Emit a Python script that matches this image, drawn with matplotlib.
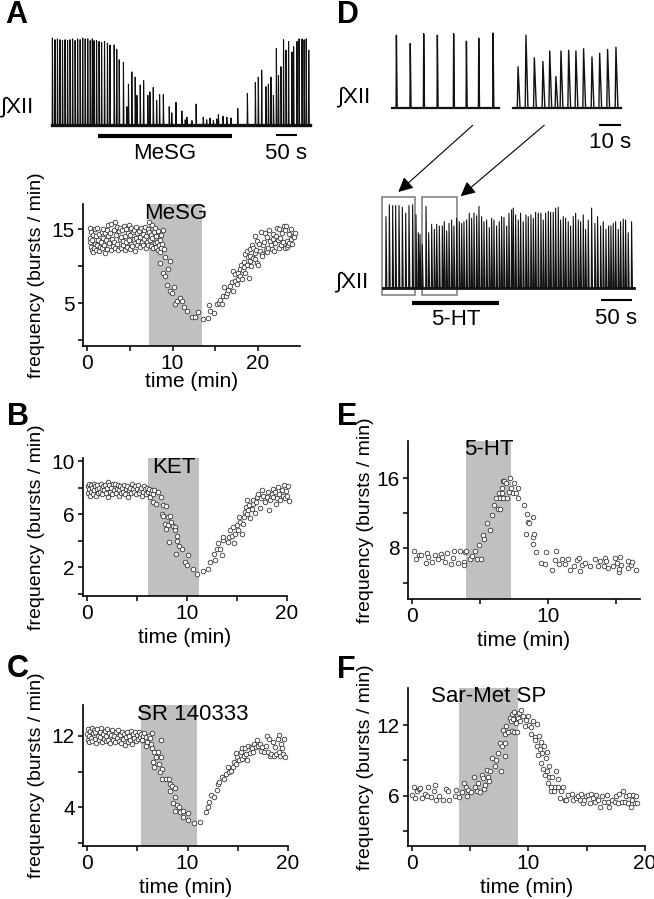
import numpy as np
import matplotlib
matplotlib.use("Agg")
import matplotlib.pyplot as plt
from matplotlib.patches import Rectangle, ConnectionPatch

plt.rcParams['font.family'] = ['Liberation Sans', 'DejaVu Sans']

W, H = 654, 899

# ---- raw traces (burst time in s, relative amplitude) ----
A_BURST_T = [1, 7, 13, 19, 25, 31, 37, 43, 49, 55,
             61, 67, 73, 79, 85, 91, 96, 100, 106, 112,
             118, 125, 132, 138, 148, 154, 160, 170, 178, 182,
             190, 198, 202, 210, 218, 228, 233, 241, 249, 256,
             265, 279, 285, 295, 309, 317, 321, 333, 343, 360,
             368, 376, 384, 392, 396, 407, 416, 426, 442, 465,
             484, 491, 499, 509, 515, 521, 527, 534, 539, 545,
             551, 557, 563, 571, 575, 583, 588, 595, 600, 605,
             611]
A_BURST_AMP = [1.0, 0.98, 0.99, 0.98, 0.97, 0.98, 0.97, 0.98, 0.99, 0.97,
               0.99, 0.98, 1.0, 0.99, 0.99, 0.97, 0.99, 0.97, 0.97, 0.96,
               0.95, 0.96, 0.94, 0.92, 0.92, 0.87, 0.75, 0.72, 0.21, 0.47,
               0.61, 0.55, 0.34, 0.46, 0.51, 0.34, 0.38, 0.43, 0.28, 0.35,
               0.35, 0.21, 0.14, 0.26, 0.16, 0.06, 0.09, 0.05, 0.24, 0.09,
               0.06, 0.08, 0.05, 0.07, 0.12, 0.10, 0.09, 0.08, 0.19, 0.36,
               0.49, 0.55, 0.63, 0.44, 0.47, 0.55, 0.34, 0.88, 0.57, 0.67,
               0.98, 0.86, 0.96, 0.84, 0.90, 0.96, 0.99, 0.99, 0.98, 0.99,
               0.86]
A_MESG_ON = (109, 428)      # s, drug bar in trace A
A_SCALE = (533, 583)        # 50 s scale bar

DL_T = [2.0, 8.3, 14.4, 20.6, 28.0, 33.8, 39.4, 45.9]
DL_AMP = [0.97, 0.86, 0.99, 0.97, 0.99, 0.89, 0.93, 1.0]
DR_T = [2.3, 5.9, 9.7, 13.6, 16.7, 19.5, 21.8, 25.3, 28.6, 32.1, 35.9, 39.4, 43.0, 46.8]
DR_AMP = [0.55, 0.97, 0.67, 0.62, 0.76, 0.42, 0.76, 0.77, 0.76, 0.79, 0.68, 0.73, 0.78, 0.81]

DB_T = [4.8, 10.2, 15.6, 20.4, 25.8, 31.2, 36.6, 41.9, 47.8, 53.2,
        57.0, 59.7, 63.4, 69.4, 73.7, 78.5, 82.8, 86.6, 90.9, 95.7,
        98.9, 102.7, 106.5, 110.8, 114.5, 118.8, 123.1, 126.9, 130.6, 134.9,
        139.2, 143.0, 146.8, 151.1, 154.8, 159.1, 162.9, 167.2, 171.5, 175.3,
        179.0, 183.3, 187.6, 191.4, 195.2, 199.5, 203.2, 207.5, 210.2, 214.0,
        218.3, 222.0, 226.3, 230.6, 234.4, 238.7, 242.5, 246.2, 250.5, 254.8,
        258.6, 262.4, 266.7, 270.4, 274.7, 278.5, 282.8, 286.6, 290.9, 294.6,
        298.9, 302.7, 307.0, 310.8, 315.1, 318.8, 323.1, 326.9, 331.2, 336.6,
        341.9, 346.2, 351.1, 355.4, 359.7, 364.0, 367.7, 371.5, 375.3, 379.6,
        383.3, 387.6, 391.4, 395.7, 401.1]
DB_AMP = [0.84, 0.98, 0.97, 0.97, 0.97, 0.95, 0.88, 0.97, 0.98, 0.86,
          0.65, 0.63, 0.51, 0.96, 0.65, 0.75, 0.69, 0.75, 0.73, 0.73,
          0.78, 0.67, 0.76, 0.80, 0.73, 0.82, 0.78, 0.76, 0.78, 0.80,
          0.88, 0.82, 0.88, 0.85, 0.96, 0.84, 0.78, 0.80, 0.71, 0.82,
          0.80, 0.73, 0.78, 0.84, 0.83, 0.73, 0.88, 0.92, 0.94, 0.86,
          0.80, 0.88, 0.78, 0.86, 0.84, 0.86, 0.82, 0.89, 0.88, 0.88,
          0.80, 0.88, 0.90, 0.89, 0.89, 0.94, 0.95, 0.80, 0.84, 0.82,
          0.78, 0.73, 0.84, 0.88, 0.80, 0.78, 0.86, 0.69, 0.80, 0.94,
          0.76, 0.84, 0.73, 0.78, 0.69, 0.73, 0.73, 0.76, 0.78, 0.69,
          0.78, 0.81, 0.80, 0.65, 0.78]
D_BOXES = [(-1.6, 53.2), (62.9, 56.5)]   # start, width in s
D_5HT_ON = (46.8, 187.0)
D_SCALE = (351.6, 401.6)

# ---- burst frequency (time min, bursts/min) ----
A_PTS = [(0.3, 13.8), (0.35, 15.1), (0.4, 13.2), (0.45, 12.6), (0.5, 14.6), (0.55, 12.1), (0.6, 13.5),
         (0.7, 11.9), (0.75, 14.2), (0.8, 12.5), (0.9, 15.0), (0.95, 13.0), (1.0, 12.2), (1.1, 14.0),
         (1.15, 12.8), (1.2, 15.1), (1.3, 13.5), (1.35, 12.0), (1.45, 14.3), (1.5, 12.6), (1.6, 13.2),
         (1.7, 14.6), (1.75, 12.4), (1.85, 13.8), (1.9, 15.0), (2.0, 12.9), (2.05, 14.4), (2.15, 11.8),
         (2.2, 13.5), (2.3, 14.9), (2.35, 12.3), (2.45, 14.0), (2.5, 15.6), (2.6, 13.1), (2.7, 14.5),
         (2.75, 12.1), (2.85, 15.7), (2.9, 13.7), (3.0, 12.7), (3.1, 14.8), (3.15, 13.3), (3.25, 15.9),
         (3.3, 12.5), (3.4, 14.2), (3.45, 15.3), (3.55, 13.0), (3.6, 12.2), (3.7, 14.7), (3.8, 13.6),
         (3.85, 15.2), (3.95, 12.4), (4.0, 13.9), (4.1, 14.9), (4.15, 12.8), (4.25, 13.4), (4.3, 15.4),
         (4.4, 12.1), (4.45, 14.1), (4.55, 13.2), (4.6, 15.0), (4.7, 12.6), (4.75, 14.5), (4.85, 13.5),
         (4.9, 15.5), (5.0, 12.3), (5.05, 14.2), (5.15, 13.0), (5.2, 15.1), (5.3, 12.7), (5.35, 14.6),
         (5.45, 13.6), (5.5, 14.9), (5.6, 12.0), (5.7, 13.8), (5.75, 15.3), (5.85, 12.9), (5.9, 14.4),
         (6.0, 13.4), (6.1, 14.7), (6.15, 12.6), (6.25, 13.9), (6.3, 15.1), (6.4, 13.2), (6.5, 14.3),
         (6.55, 12.8), (6.65, 14.8), (6.7, 13.6), (6.8, 15.3), (6.85, 12.5), (6.95, 14.1), (7.0, 13.3),
         (7.1, 15.0), (7.15, 12.9), (7.25, 14.6), (7.3, 16.0), (7.35, 13.5), (7.45, 14.2), (7.5, 12.7),
         (7.6, 15.5), (7.65, 13.8), (7.75, 12.4), (7.8, 14.6), (7.9, 13.1), (7.95, 15.2), (8.05, 12.6),
         (8.1, 14.0), (8.2, 13.3), (8.25, 12.2), (8.35, 14.7), (8.4, 12.8), (8.5, 13.5), (8.55, 11.9),
         (8.65, 14.2), (8.7, 12.5), (8.8, 13.0), (8.85, 14.9), (8.95, 12.3),
         (8.5, 10.4), (8.9, 9.1), (9.1, 11.2), (9.1, 8.6), (9.3, 7.5), (9.5, 9.6), (9.7, 10.7),
         (9.7, 6.6), (9.9, 6.3), (10.2, 7.1), (10.3, 4.8), (10.5, 5.3), (10.9, 5.7), (11.1, 5.3),
         (11.3, 4.4), (11.65, 3.9), (12.25, 3.1), (12.6, 3.15), (13.0, 3.8),
         (13.6, 2.8), (14.2, 3.0), (14.3, 4.7), (14.4, 3.9), (14.85, 3.7), (15.2, 4.9), (15.4, 5.0),
         (15.55, 5.4), (15.75, 4.8), (15.9, 5.9), (16.0, 7.1), (16.2, 6.0), (16.4, 6.3), (16.5, 6.7),
         (16.7, 7.3), (16.9, 7.8), (17.1, 6.6), (17.1, 9.3), (17.3, 8.0), (17.3, 8.9), (17.5, 7.6),
         (17.6, 8.3), (17.7, 9.1), (17.9, 8.6), (17.9, 9.6), (18.0, 10.1), (18.1, 8.2), (18.2, 9.4),
         (18.3, 9.8), (18.4, 10.5), (18.5, 9.1), (18.5, 11.6), (18.7, 10.2), (18.7, 12.0), (18.8, 11.2),
         (18.9, 8.4), (19.0, 12.3), (19.1, 10.7), (19.1, 11.4), (19.2, 10.0), (19.3, 12.8), (19.45, 11.1),
         (19.45, 12.5), (19.6, 10.9), (19.65, 11.8), (19.65, 14.05), (19.75, 12.2), (19.85, 10.4),
         (19.85, 13.4), (20.0, 10.2), (20.1, 13.0), (20.2, 12.0), (20.3, 14.6), (20.4, 11.6), (20.5, 11.3),
         (20.6, 12.9), (20.7, 13.3), (20.8, 14.5), (20.9, 12.1), (21.0, 13.9), (21.1, 11.9), (21.2, 12.5),
         (21.3, 14.8), (21.4, 13.4), (21.5, 12.8), (21.6, 12.3), (21.7, 13.7), (21.8, 14.3), (21.9, 12.0),
         (22.0, 13.1), (22.1, 14.0), (22.2, 15.2), (22.3, 13.5), (22.4, 12.5), (22.5, 15.0), (22.6, 13.8),
         (22.7, 12.9), (22.8, 14.5), (22.9, 13.2), (23.0, 15.4), (23.1, 14.8), (23.2, 12.5), (23.3, 15.4),
         (23.35, 13.4), (23.4, 12.6), (23.5, 12.9), (23.6, 13.1), (23.65, 14.3), (23.8, 15.0), (23.9, 13.6),
         (24.0, 13.0), (24.1, 14.05), (24.2, 13.9), (24.3, 14.4)]

B_PTS = [(0.05, 8.1), (0.1, 7.6), (0.15, 8.3), (0.2, 7.9), (0.3, 7.4), (0.35, 8.2), (0.4, 7.7), (0.5, 8.0),
         (0.55, 7.5), (0.65, 8.3), (0.7, 7.8), (0.8, 8.1), (0.85, 7.4), (0.95, 7.9), (1.0, 8.2), (1.1, 7.6),
         (1.2, 8.0), (1.25, 7.7), (1.35, 8.3), (1.45, 7.9), (1.5, 7.5), (1.6, 8.1), (1.7, 7.8), (1.75, 8.2),
         (1.85, 7.6), (1.95, 8.0), (2.05, 7.3), (2.1, 8.4), (2.2, 8.2), (2.3, 7.7), (2.4, 8.0), (2.5, 7.5),
         (2.55, 8.3), (2.65, 7.8), (2.8, 8.3), (2.85, 7.6), (2.95, 7.9), (3.05, 8.2), (3.15, 7.4), (3.2, 7.8),
         (3.3, 8.1), (3.4, 7.6), (3.5, 8.0), (3.6, 7.7), (3.7, 8.2), (3.8, 7.5), (3.9, 7.9), (4.0, 8.1),
         (4.1, 7.3), (4.2, 7.8), (4.3, 8.0), (4.4, 7.6), (4.5, 8.3), (4.6, 7.9), (4.7, 7.7), (4.8, 8.1),
         (4.9, 7.5), (5.0, 7.9), (5.1, 8.2), (5.2, 7.6), (5.3, 7.8), (5.4, 8.0), (5.5, 7.4), (5.6, 7.7),
         (5.7, 8.1), (5.8, 7.9), (5.9, 7.5), (6.0, 8.0), (6.1, 7.7), (6.2, 7.9), (6.3, 7.3), (6.4, 7.6),
         (6.5, 7.8), (6.6, 7.5), (6.7, 7.8),
         (6.6, 6.9), (6.9, 6.8), (7.1, 7.7), (7.4, 7.3), (7.6, 6.7), (7.9, 6.6), (7.5, 6.05), (7.6, 5.9),
         (8.1, 5.8), (8.3, 5.9), (7.8, 5.3), (7.9, 4.9), (8.1, 5.2), (8.4, 5.4), (8.6, 5.1), (8.8, 5.05),
         (9.0, 4.4), (8.8, 4.8), (8.2, 3.9), (9.0, 4.0), (9.2, 3.6), (9.5, 3.4), (8.9, 3.0), (10.1, 2.9),
         (9.8, 2.4), (10.0, 2.2), (10.6, 1.9), (10.95, 1.5),
         (11.6, 1.7), (12.1, 1.9), (12.3, 2.4), (12.8, 2.55), (12.7, 3.0), (13.0, 3.4), (13.3, 3.4),
         (13.5, 2.9), (13.1, 3.8), (13.6, 4.05), (13.6, 4.3), (14.1, 3.9), (14.2, 4.3), (14.3, 4.8),
         (14.5, 4.35), (14.7, 3.8), (14.8, 4.5), (14.6, 5.05), (15.0, 5.2), (15.1, 4.8), (15.2, 5.8),
         (15.3, 5.4), (15.5, 4.5), (15.6, 5.25), (15.7, 5.8), (15.8, 6.2), (15.9, 6.55), (16.0, 7.1),
         (16.0, 6.0), (16.1, 6.3), (16.2, 6.7), (16.3, 5.7), (16.5, 6.4), (16.6, 6.8), (16.6, 7.1),
         (16.8, 6.1), (16.9, 6.9), (17.0, 7.3), (17.1, 7.55), (17.3, 6.5), (17.4, 7.2), (17.5, 7.8),
         (17.6, 7.4), (17.8, 6.9), (18.0, 7.3), (18.1, 7.7), (18.2, 6.3), (18.3, 7.05), (18.5, 7.55),
         (18.6, 7.9), (18.6, 7.3), (18.8, 7.7), (18.9, 6.8), (19.0, 7.2), (19.1, 8.05), (19.2, 7.5),
         (19.3, 7.05), (19.5, 7.8), (19.6, 7.35), (19.7, 8.2), (19.8, 7.2), (19.9, 7.75), (20.0, 7.4),
         (20.1, 8.1), (20.15, 7.0)]

C_PTS = [(0.0, 12.2), (0.05, 11.6), (0.1, 12.8), (0.15, 12.0), (0.2, 11.3), (0.3, 12.6), (0.35, 11.8),
         (0.45, 12.9), (0.5, 11.4), (0.6, 12.3), (0.65, 12.7), (0.75, 11.7), (0.8, 12.4), (0.9, 11.2),
         (1.0, 12.8), (1.05, 12.0), (1.15, 11.5), (1.25, 12.5), (1.3, 11.9), (1.4, 12.9), (1.5, 11.3),
         (1.55, 12.2), (1.65, 11.7), (1.75, 12.6), (1.85, 11.4), (1.9, 12.0), (2.0, 12.8), (2.1, 11.6),
         (2.2, 12.3), (2.3, 11.2), (2.4, 12.1), (2.5, 12.7), (2.55, 11.5), (2.65, 12.0), (2.75, 11.3),
         (2.85, 12.4), (2.95, 11.8), (3.05, 12.7), (3.15, 11.4), (3.25, 12.1), (3.35, 11.2), (3.45, 12.5),
         (3.55, 11.7), (3.65, 12.2), (3.75, 11.0), (3.85, 11.9), (3.95, 12.4), (4.05, 11.3), (4.15, 12.0),
         (4.25, 11.6), (4.35, 12.6), (4.45, 11.1), (4.55, 12.2), (4.65, 11.8), (4.75, 12.5), (4.85, 11.4),
         (4.95, 12.1), (5.05, 11.7), (5.15, 12.4), (5.25, 11.9), (5.35, 12.2), (5.45, 11.6), (5.55, 12.0),
         (5.65, 12.3), (5.75, 11.5), (5.85, 11.9), (6.0, 11.3), (6.2, 12.0), (6.3, 11.8), (6.5, 12.3),
         (5.5, 11.5), (5.9, 10.9), (6.4, 11.1), (6.5, 10.6), (6.7, 10.2), (6.9, 9.6), (6.6, 9.1), (6.7, 8.5),
         (7.2, 8.9), (7.4, 11.5), (7.1, 10.2), (7.4, 9.6), (7.5, 8.3), (7.3, 7.9), (7.5, 7.2), (7.9, 7.2),
         (8.2, 7.1), (8.3, 6.6), (8.5, 6.4), (8.3, 5.8), (8.8, 6.1), (8.8, 5.1), (8.6, 4.4), (9.0, 4.2),
         (9.2, 4.0), (8.8, 3.6), (9.3, 3.4), (9.6, 3.6), (10.0, 3.35), (9.6, 2.9), (10.0, 2.5), (10.6, 2.2),
         (11.2, 2.3),
         (11.8, 3.4), (12.0, 4.0), (12.1, 4.6), (12.3, 5.3), (12.6, 5.1), (12.9, 5.9), (13.0, 6.6),
         (13.1, 6.8), (13.4, 7.4), (13.6, 7.2), (13.8, 7.75), (14.0, 8.5), (14.1, 7.9), (14.3, 8.1),
         (14.5, 8.5), (14.6, 9.1), (14.8, 8.9), (14.85, 10.1), (14.95, 9.6), (15.1, 9.3), (15.3, 10.2),
         (15.4, 9.4), (15.4, 10.6), (15.6, 9.8), (15.7, 10.7), (15.8, 10.0), (15.9, 9.3), (16.0, 10.9),
         (16.2, 10.1), (16.3, 10.8), (16.4, 10.6), (16.5, 10.2), (16.6, 11.1), (16.8, 10.8), (16.9, 11.5),
         (17.0, 10.9), (17.2, 11.1), (17.3, 10.3), (17.4, 10.8), (17.6, 10.2), (17.8, 10.9), (17.9, 12.0),
         (18.0, 10.2), (18.1, 11.7), (18.25, 9.8), (18.35, 10.0), (18.5, 11.3), (18.6, 9.7), (18.75, 10.8),
         (18.85, 10.0), (19.0, 11.7), (19.1, 10.2), (19.15, 12.1), (19.25, 9.8), (19.35, 11.1),
         (19.4, 10.7), (19.5, 10.0), (19.6, 11.7), (19.7, 9.6)]

E_PTS = [(0.15, 7.6), (0.3, 6.7), (0.5, 7.2), (0.7, 7.2), (1.0, 6.3), (1.1, 7.4), (1.2, 7.0), (1.5, 6.4),
         (1.7, 7.2), (1.9, 6.7), (2.1, 7.3), (2.2, 7.0), (2.4, 6.4), (2.6, 7.4), (2.9, 6.2), (3.0, 6.9),
         (3.1, 7.6), (3.4, 6.3), (3.5, 7.6), (3.8, 6.4), (3.85, 6.1), (3.9, 7.5), (4.0, 7.6), (4.3, 6.7),
         (4.4, 7.1), (4.6, 7.6), (4.8, 6.7), (4.9, 8.3), (5.05, 6.7), (5.2, 9.5), (5.3, 9.0), (5.5, 10.8),
         (5.7, 10.0), (5.9, 11.8), (6.0, 12.9), (6.15, 13.7), (6.3, 12.5), (6.4, 14.3), (6.5, 13.7),
         (6.5, 12.5), (6.6, 14.9), (6.6, 14.3), (6.7, 15.7), (6.7, 13.7), (6.8, 15.7), (6.9, 15.4),
         (7.0, 13.7), (7.1, 14.4), (7.2, 16.0), (7.3, 14.9), (7.4, 14.3), (7.5, 15.4), (7.65, 14.3),
         (7.8, 14.9), (7.8, 13.7), (8.25, 12.9), (8.45, 11.9), (8.5, 11.0), (8.6, 10.8), (8.9, 11.5),
         (8.35, 9.6), (8.9, 9.2), (9.0, 9.6), (8.9, 8.4), (9.1, 7.5), (9.5, 6.3), (9.8, 6.2), (9.85, 7.5),
         (10.3, 5.5), (10.5, 6.6), (10.6, 7.6), (10.8, 6.2), (11.0, 6.7), (11.25, 6.2), (11.5, 6.7),
         (11.6, 5.5), (11.9, 5.9), (12.1, 6.6), (12.3, 6.9), (12.35, 5.4), (12.5, 6.0), (12.7, 6.3),
         (13.1, 5.9), (13.45, 6.7), (13.7, 5.9), (13.8, 6.5), (14.2, 6.9), (14.1, 5.9), (14.25, 6.5),
         (14.4, 5.7), (14.75, 5.9), (14.9, 6.8), (15.1, 6.3), (15.2, 5.2), (15.3, 7.0), (15.2, 5.6),
         (15.35, 6.1), (15.9, 5.7), (15.9, 6.5), (16.1, 6.0), (16.2, 6.4), (16.45, 5.5)]

F_PTS = [(0.0, 6.1), (0.2, 6.8), (0.3, 5.8), (0.4, 6.4), (0.6, 6.6), (0.7, 6.7), (0.85, 5.8), (1.1, 6.2),
         (1.3, 6.0), (1.4, 6.8), (1.6, 5.9), (1.85, 6.4), (2.0, 6.9), (2.1, 5.7), (2.3, 6.0), (2.7, 5.7),
         (2.9, 6.6), (3.1, 6.4), (3.2, 5.7), (3.7, 6.0), (3.8, 6.5), (4.0, 5.9), (4.3, 6.3), (4.5, 7.1),
         (4.6, 6.8), (4.7, 6.0), (4.85, 6.5), (5.1, 6.3), (5.3, 7.6), (5.4, 6.8), (5.55, 6.4), (5.7, 7.1),
         (5.8, 6.3), (6.0, 7.8), (6.1, 7.5), (6.2, 6.6), (6.3, 6.9), (6.4, 8.2), (6.5, 7.6), (6.6, 7.3),
         (6.7, 8.1), (6.9, 9.2), (7.1, 8.5), (7.25, 9.0), (7.4, 9.6), (7.55, 10.5), (7.6, 8.1), (7.7, 10.2),
         (7.8, 11.6), (7.95, 9.4), (7.95, 11.2), (8.0, 10.5), (8.1, 11.9), (8.25, 11.4), (8.4, 12.6),
         (8.5, 12.3), (8.55, 12.9), (8.6, 11.5), (8.7, 12.5), (8.75, 11.4), (8.8, 13.1), (8.9, 12.2),
         (9.0, 12.8), (9.05, 11.4), (9.1, 12.6), (9.2, 13.0), (9.3, 12.3), (9.4, 13.3), (9.5, 12.8),
         (9.7, 11.9), (9.8, 12.4), (9.95, 12.8), (10.05, 12.0), (10.2, 11.8), (10.25, 11.2), (10.4, 12.3),
         (10.55, 11.0), (10.6, 10.7), (10.7, 10.2), (10.75, 12.1), (10.8, 9.5), (10.9, 11.1), (10.95, 10.0),
         (11.05, 8.8), (11.1, 10.6), (11.2, 9.6), (11.25, 8.3), (11.35, 10.2), (11.4, 7.8), (11.5, 9.2),
         (11.55, 8.1), (11.6, 9.7), (11.7, 7.1), (11.75, 8.5), (11.8, 7.6), (11.9, 6.4), (11.95, 6.8),
         (12.05, 7.6), (12.15, 6.4), (12.25, 6.8), (12.4, 8.1), (12.5, 6.8), (12.55, 7.4), (12.7, 5.8),
         (12.8, 6.4), (12.95, 6.8), (13.1, 5.7), (13.25, 5.7), (13.4, 6.1), (13.7, 6.2), (13.8, 5.7),
         (14.05, 5.8), (14.25, 6.0), (14.45, 5.7), (14.5, 6.2), (14.7, 5.4), (14.8, 5.7), (14.95, 6.0),
         (15.1, 6.1), (15.3, 5.4), (15.4, 6.2), (15.5, 5.8), (15.7, 5.5), (15.8, 6.1), (15.95, 5.7),
         (16.15, 5.1), (16.3, 6.0), (16.5, 5.5), (16.7, 6.1), (16.8, 5.5), (16.95, 5.1), (17.2, 5.7),
         (17.4, 5.5), (17.5, 6.0), (17.7, 5.4), (17.8, 6.2), (18.0, 5.5), (18.1, 6.4), (18.25, 5.5),
         (18.4, 6.0), (18.5, 5.4), (18.6, 6.1), (18.8, 5.1), (18.9, 5.7), (19.0, 6.1), (19.1, 5.4),
         (19.2, 6.0), (19.3, 5.4)]

FS_TICK = 15
FS_XLAB = 15
FS_YLAB = 14
FS_DRUG = 16

fig = plt.figure(figsize=(W / 100, H / 100), dpi=100)


def px_axes(l, t, r, b):
    return fig.add_axes([l / W, 1 - b / H, (r - l) / W, (b - t) / H])


def fig_text(x, y, s, **kw):
    fig.text(x / W, 1 - y / H, s, **kw)


def draw_trace(ax, times, amps, t_end, rise, decay, lw=0.8, base_lw=1.6):
    xs, ys = [0], [0]
    for t, a in zip(times, amps):
        xs += [t - rise, t, t + decay]
        ys += [0, a, 0]
    xs.append(t_end)
    ys.append(0)
    ax.plot(xs, ys, color='#111111', lw=lw, clip_on=False)
    ax.plot([0, t_end], [0, 0], color='#111111', lw=base_lw, clip_on=False)
    ax.set_xlim(0, t_end)
    ax.set_ylim(0, 1)
    ax.axis('off')


def scatter_panel(rect, pts, shade, drug, xlim, ylim, xticks, xtl, yticks, ytl,
                  ylab_dx, xlab_dy=32, drug_x=None, drug_ha='center'):
    ax = px_axes(*rect)
    wpx, hpx = rect[2] - rect[0], rect[3] - rect[1]
    ax.axvspan(shade[0], shade[1], color='#c0c0c0', lw=0, zorder=0)
    t, f = np.array(pts).T
    ax.scatter(t, f, s=11, facecolor='white', edgecolor='#2a2a2a', lw=0.55, zorder=3, clip_on=False)
    ax.set_xlim(*xlim)
    ax.set_ylim(*ylim)
    ax.set_xticks(xticks)
    ax.set_xticklabels(xtl)
    ax.set_yticks(yticks)
    ax.set_yticklabels(ytl)
    for s in ['top', 'right']:
        ax.spines[s].set_visible(False)
    for s in ['left', 'bottom']:
        ax.spines[s].set_linewidth(1.2)
    ax.tick_params(direction='out', length=3.5, width=1.1, labelsize=FS_TICK, pad=2.5)
    ax.set_xlabel('time (min)', fontsize=FS_XLAB)
    ax.set_ylabel('frequency (bursts / min)', fontsize=FS_YLAB)
    ax.xaxis.set_label_coords(0.5, -xlab_dy / hpx)
    ax.yaxis.set_label_coords(-ylab_dx / wpx, 0.5)
    if drug_x is None:
        drug_x = (shade[0] + shade[1]) / 2
    ax.text(drug_x, 1.01, drug, transform=ax.get_xaxis_transform(), ha=drug_ha, va='top',
            fontsize=FS_DRUG, zorder=4)
    return ax


# ---- A ----
axA = px_axes(52, 38, 310, 125)
draw_trace(axA, A_BURST_T, A_BURST_AMP, 614, 0.6, 1.2, lw=0.8, base_lw=2.4)
axA.plot(A_MESG_ON, [-0.13, -0.13], color='k', lw=3, clip_on=False, solid_capstyle='butt')
axA.plot(A_SCALE, [-0.115, -0.115], color='k', lw=1.5, clip_on=False, solid_capstyle='butt')
axA.text(np.mean(A_MESG_ON), -0.39, 'MeSG', ha='center', va='baseline', fontsize=FS_DRUG)
axA.text(np.mean(A_SCALE), -0.39, '50 s', ha='center', va='baseline', fontsize=FS_DRUG)
fig_text(0, 112, '∫XII', fontsize=16, va='baseline', ha='left')

scatter_panel((83, 204, 300, 346), A_PTS, (7.25, 13.45), 'MeSG', (-0.47, 24.9), (-0.81, 18.38),
              [0, 5, 10, 15, 20], ['0', '', '10', '', '20'], [0, 5, 10, 15], ['', '5', '', '15'],
              ylab_dx=38, xlab_dy=26)
scatter_panel((83, 458, 287, 596), B_PTS, (6.1, 11.2), 'KET', (-0.4, 20.0), (-0.15, 10.23),
              [0, 5, 10, 15, 20], ['0', '', '10', '', '20'], [0, 2, 4, 6, 8, 10],
              ['', '2', '', '6', '', '10'], ylab_dx=38)
scatter_panel((83, 705, 288, 846), C_PTS, (5.4, 10.9), 'SR 140333', (-0.4, 20.0), (-0.39, 15.49),
              [0, 5, 10, 15, 20], ['0', '', '10', '', '20'], [0, 4, 8, 12], ['', '4', '', '12'],
              ylab_dx=38, drug_x=5.0, drug_ha='left')
scatter_panel((408, 441, 640, 599), E_PTS, (4.0, 7.3), '5-HT', (-0.29, 16.76), (2.17, 20.23),
              [0, 5, 10, 15], ['0', '', '10', ''], [4, 8, 12, 16], ['', '8', '', '16'],
              ylab_dx=34)
scatter_panel((408, 688, 645, 846), F_PTS, (4.0, 9.1), 'Sar-Met SP', (-0.34, 20.0), (1.77, 15.13),
              [0, 5, 10, 15, 20], ['0', '', '10', '', '20'], [3, 6, 9, 12], ['', '6', '', '12'],
              ylab_dx=34)

# ---- D ----
axDL = px_axes(392, 33, 499, 108)
draw_trace(axDL, DL_T, DL_AMP, 48.6, 0.15, 0.35, lw=1.0, base_lw=1.6)
axDR = px_axes(513, 33, 621, 108)
draw_trace(axDR, DR_T, DR_AMP, 49.1, 0.35, 0.9, lw=1.0, base_lw=1.6)
axDR.plot([39.1, 49.1], [-0.23, -0.23], color='k', lw=1.5, clip_on=False, solid_capstyle='butt')
axDR.text(44.1, -0.53, '10 s', ha='center', va='baseline', fontsize=FS_DRUG)
fig_text(337, 102, '∫XII', fontsize=16, va='baseline', ha='left')

axDB = px_axes(383, 203, 634, 288)
draw_trace(axDB, DB_T, DB_AMP, 405, 0.5, 1.4, lw=0.8, base_lw=2.0)
for x0, w in D_BOXES:
    axDB.add_patch(Rectangle((x0, -0.08), w, 1.15, fill=False, edgecolor='#8c8c8c', lw=1.3,
                             clip_on=False))
axDB.plot(D_5HT_ON, [-0.18, -0.18], color='k', lw=3, clip_on=False, solid_capstyle='butt')
axDB.plot(D_SCALE, [-0.14, -0.14], color='k', lw=1.5, clip_on=False, solid_capstyle='butt')
axDB.text(np.mean(D_5HT_ON), -0.44, '5-HT', ha='center', va='baseline', fontsize=FS_DRUG)
axDB.text(np.mean(D_SCALE), -0.42, '50 s', ha='center', va='baseline', fontsize=FS_DRUG)
fig_text(335, 287, '∫XII', fontsize=16, va='baseline', ha='left')

for axs, xy0, xy1 in [(axDL, (36.7, -0.23), (24.7, 1.13)), (axDR, (14.2, -0.23), (125.3, 1.08))]:
    con = ConnectionPatch(xyA=xy0, coordsA=axs.transData, xyB=xy1, coordsB=axDB.transData,
                          arrowstyle='-|>', mutation_scale=22, lw=0.8, color='k')
    fig.add_artist(con)

# panel letters
for lab, x, y in [('A', 5, 23), ('B', 7, 425), ('C', 7, 677),
                  ('D', 337, 23), ('E', 337, 425), ('F', 337, 678)]:
    fig_text(x, y, lab, fontsize=22, fontweight='bold', va='baseline', ha='left')

fig.savefig('out.png', dpi=100)
